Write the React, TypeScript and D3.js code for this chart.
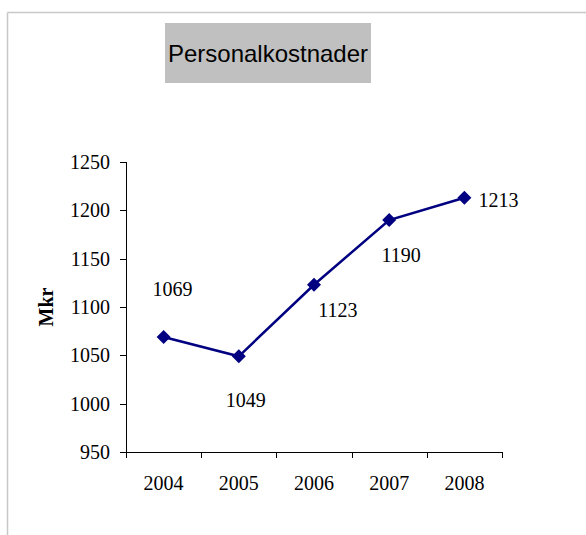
import React from "react";
import * as d3 from "d3";

const years = ["2004", "2005", "2006", "2007", "2008"];
const values = [1069, 1049, 1123, 1190, 1213];
const yTicks = [950, 1000, 1050, 1100, 1150, 1200, 1250];
const title = "Personalkostnader";
const yTitle = "Mkr";
// label offsets (dx, dy) relative to each point, as placed in the original
const labelOffsets: [number, number][] = [
  [9, -41],
  [7, 51],
  [24, 32],
  [12, 42],
  [34, 9],
];

export default function App() {
  const W = 586;
  const H = 535;
  const left = 126;
  const right = 502;
  const top = 162;
  const bottom = 452;

  const x = d3.scaleBand<string>().domain(years).range([left, right]).padding(0);
  const y = d3.scaleLinear().domain([950, 1250]).range([bottom, top]);

  const line = d3
    .line<number>()
    .x((_, i) => (x(years[i]) as number) + x.bandwidth() / 2)
    .y((d) => y(d));

  const serif = "'Liberation Serif', 'Times New Roman', serif";
  const sans = "'Liberation Sans', Arial, sans-serif";
  const navy = "#000080";
  const m = 7;
  const fs = 20;

  const edges = years.map((yr) => x(yr) as number).concat([right]);

  return (
    <svg
      width={W}
      height={H}
      style={{ position: "absolute", left: 0, top: 0, background: "#fff" }}
    >
      {/* chart area border (top and left visible) */}
      <line x1={7.5} y1={12.5} x2={W} y2={12.5} stroke="#c8c8c8" strokeWidth={1.5} />
      <line x1={7.5} y1={12.5} x2={7.5} y2={H} stroke="#c8c8c8" strokeWidth={1.5} />

      {/* title */}
      <rect x={165} y={23} width={206} height={60} fill="#c0c0c0" />
      <text x={268} y={62} textAnchor="middle" fontFamily={sans} fontSize={24} fill="#000">
        {title}
      </text>

      {/* y axis */}
      <line x1={left + 0.5} y1={top} x2={left + 0.5} y2={bottom} stroke="#000" strokeWidth={1} />
      {yTicks.map((t) => (
        <g key={t}>
          <line x1={left - 6} x2={left} y1={Math.round(y(t)) + 0.5} y2={Math.round(y(t)) + 0.5} stroke="#000" />
          <text x={left - 16} y={y(t) + 7} textAnchor="end" fontFamily={serif} fontSize={fs} fill="#000">
            {t}
          </text>
        </g>
      ))}
      <text
        transform={`translate(46,${(top + bottom) / 2}) rotate(-90)`}
        textAnchor="middle"
        dominantBaseline="central"
        fontFamily={serif}
        fontWeight="bold"
        fontSize={fs}
        fill="#000"
      >
        {yTitle}
      </text>

      {/* x axis */}
      <line x1={left} y1={bottom + 0.5} x2={right} y2={bottom + 0.5} stroke="#000" />
      {edges.map((e, i) => (
        <line key={i} x1={Math.round(e) + 0.5} x2={Math.round(e) + 0.5} y1={bottom} y2={bottom + 6} stroke="#000" />
      ))}
      {years.map((yr) => (
        <text
          key={yr}
          x={(x(yr) as number) + x.bandwidth() / 2}
          y={bottom + 38}
          textAnchor="middle"
          fontFamily={serif}
          fontSize={fs}
          fill="#000"
        >
          {yr}
        </text>
      ))}

      {/* series */}
      <path d={line(values) || ""} fill="none" stroke={navy} strokeWidth={2.5} />
      {values.map((v, i) => {
        const cx = (x(years[i]) as number) + x.bandwidth() / 2;
        const cy = y(v);
        return (
          <path
            key={i}
            d={`M${cx},${cy - m}L${cx + m},${cy}L${cx},${cy + m}L${cx - m},${cy}Z`}
            fill={navy}
          />
        );
      })}
      {values.map((v, i) => {
        const cx = (x(years[i]) as number) + x.bandwidth() / 2;
        const cy = y(v);
        const [dx, dy] = labelOffsets[i];
        return (
          <text
            key={"l" + i}
            x={cx + dx}
            y={cy + dy}
            textAnchor="middle"
            fontFamily={serif}
            fontSize={fs}
            fill="#000"
          >
            {v}
          </text>
        );
      })}
    </svg>
  );
}
